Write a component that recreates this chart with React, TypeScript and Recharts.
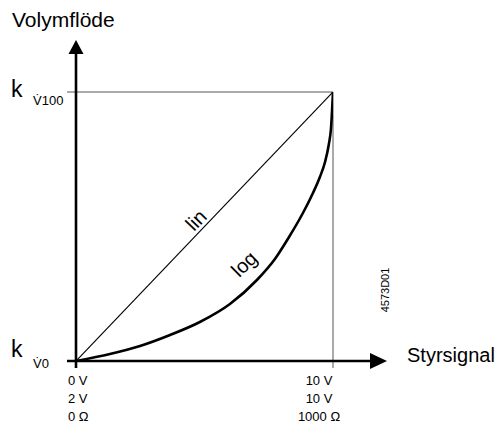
import React from 'react';
import { LineChart, Line, XAxis, YAxis, ReferenceLine, ReferenceDot } from 'recharts';

// Control signal (x) ticks and their three-row labels
const signalTicks = [0, 10];
const signalRow1 = ['0 V', '10 V'];
const signalRow2 = ['2 V', '10 V'];
const signalRow3 = ['0 Ω', '1000 Ω'];

// Volume flow (y) ticks and subscripts
const flowTicks = [0, 100];
const flowSubscripts = ['V\u03070', 'V\u0307100'];

// Linear characteristic
const linX = [0, 10];
const linY = [0, 100];

// Logarithmic (equal-percentage) characteristic
const logX = [0, 1.32, 2.49, 3.66, 4.82, 5.99, 7.04, 7.74, 8.29, 8.83, 9.22, 9.49, 9.69, 9.84, 9.92, 10];
const logY = [0, 2.6, 5.58, 9.67, 14.5, 21.19, 30.11, 37.92, 46.1, 55.02, 62.45, 68.4, 73.98, 80.67, 86.25, 100];

const linData = linX.map((x, i) => ({ x, y: linY[i] }));
const logData = logX.map((x, i) => ({ x, y: logY[i] }));

const FONT = '"Liberation Sans", Arial, sans-serif';

const XTick = (props: any) => {
  const { x, y, payload } = props;
  const i = signalTicks.indexOf(payload.value);
  const left = i === 0;
  const tx = left ? x - 8 : x - 14;
  const anchor = left ? 'start' : 'middle';
  return (
    <g>
      <text x={tx} y={y + 24} textAnchor={anchor} fontSize={13} fontFamily={FONT} fill="#000">{signalRow1[i]}</text>
      <text x={tx} y={y + 42} textAnchor={anchor} fontSize={13} fontFamily={FONT} fill="#000">{signalRow2[i]}</text>
      <text x={tx} y={y + 60} textAnchor={anchor} fontSize={13} fontFamily={FONT} fill="#000">{signalRow3[i]}</text>
    </g>
  );
};

const YTick = (props: any) => {
  const { y, payload } = props;
  const i = flowTicks.indexOf(payload.value);
  const top = i === 1;
  const kBase = top ? y + 5 : y - 4;
  const sBase = top ? y + 13 : y + 7;
  return (
    <g>
      <text x={11} y={kBase} fontSize={23} fontFamily={FONT} fill="#000">k</text>
      <text x={33} y={sBase} fontSize={13} fontFamily={FONT} fill="#000">{flowSubscripts[i]}</text>
    </g>
  );
};

const textShape = (label: string, opts: any) => (p: any) => (
  <text
    x={p.cx}
    y={p.cy}
    fontSize={opts.size}
    fontFamily={FONT}
    fill="#000"
    textAnchor={opts.anchor || 'start'}
    dominantBaseline={opts.baseline || 'auto'}
    transform={opts.rotate ? `rotate(${opts.rotate} ${p.cx} ${p.cy})` : undefined}
  >
    {label}
  </text>
);

const upArrow = (p: any) => (
  <polygon points={`${p.cx},${p.cy} ${p.cx - 7.5},${p.cy + 14} ${p.cx + 7.5},${p.cy + 14}`} fill="#000" />
);
const rightArrow = (p: any) => (
  <polygon points={`${p.cx},${p.cy} ${p.cx - 17},${p.cy - 8} ${p.cx - 17},${p.cy + 8}`} fill="#000" />
);

export default function App() {
  return (
    <div style={{ position: 'absolute', left: 0, top: 0, background: '#fff' }}>
      <LineChart width={502} height={428} margin={{ top: 92, right: 169, bottom: 0, left: 0 }}>
        <XAxis
          dataKey="x"
          type="number"
          domain={[0, 10]}
          allowDataOverflow
          ticks={signalTicks}
          interval={0}
          axisLine={false}
          tickLine={false}
          tickSize={0}
          tickMargin={0}
          height={67}
          tick={<XTick />}
        />
        <YAxis
          dataKey="y"
          type="number"
          domain={[0, 100]}
          allowDataOverflow
          ticks={flowTicks}
          interval={0}
          axisLine={false}
          tickLine={false}
          tickSize={0}
          tickMargin={0}
          width={76}
          tick={<YTick />}
        />
        <ReferenceLine segment={[{ x: -0.35, y: 100 }, { x: 10, y: 100 }]} stroke="#555" strokeWidth={1} ifOverflow="visible" />
        <ReferenceLine segment={[{ x: 10, y: 100 }, { x: 10, y: -2.6 }]} stroke="#555" strokeWidth={1} ifOverflow="visible" />
        <ReferenceLine segment={[{ x: 0, y: -2.6 }, { x: 0, y: 114.5 }]} stroke="#000" strokeWidth={2.6} ifOverflow="visible" />
        <ReferenceLine segment={[{ x: -0.35, y: 0 }, { x: 11.5, y: 0 }]} stroke="#000" strokeWidth={2.6} ifOverflow="visible" />
        <ReferenceDot x={0} y={119.3} r={1} ifOverflow="visible" shape={upArrow} />
        <ReferenceDot x={12.1} y={0} r={1} ifOverflow="visible" shape={rightArrow} />
        <Line data={linData} dataKey="y" type="linear" stroke="#000" strokeWidth={1.2} dot={false} isAnimationActive={false} />
        <Line data={logData} dataKey="y" type="monotone" stroke="#000" strokeWidth={2.6} dot={false} isAnimationActive={false} />
        <ReferenceDot x={-2.49} y={124.2} r={1} ifOverflow="visible" shape={textShape('Volymflöde', { size: 21 })} />
        <ReferenceDot x={12.88} y={-0.4} r={1} ifOverflow="visible" shape={textShape('Styrsignal', { size: 20 })} />
        <ReferenceDot x={4.67} y={52.4} r={1} ifOverflow="visible" shape={textShape('lin', { size: 20, anchor: 'middle', baseline: 'central', rotate: -46 })} />
        <ReferenceDot x={6.54} y={36.1} r={1} ifOverflow="visible" shape={textShape('log', { size: 20, anchor: 'middle', baseline: 'central', rotate: -44 })} />
        <ReferenceDot x={12.02} y={26.4} r={1} ifOverflow="visible" shape={textShape('4573D01', { size: 11, anchor: 'middle', baseline: 'central', rotate: -90 })} />
      </LineChart>
    </div>
  );
}
